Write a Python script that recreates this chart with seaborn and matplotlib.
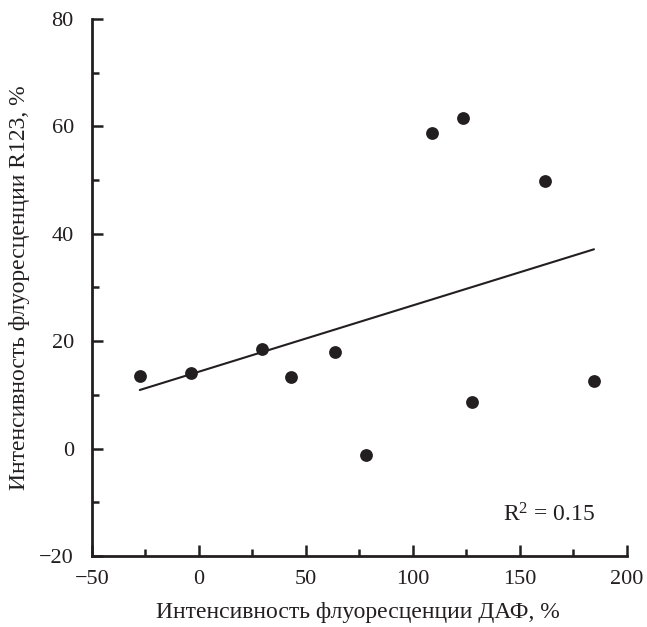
import matplotlib
matplotlib.use("Agg")
import matplotlib.pyplot as plt
from matplotlib.ticker import MultipleLocator
import seaborn as sns
import pandas as pd

# данные
daf = [-27.6, -3.7, 29.4, 43.0, 63.6, 78.0, 108.9, 123.4, 127.6, 161.7, 184.6]
r123 = [13.5, 14.0, 18.5, 13.3, 18.0, -1.2, 58.7, 61.5, 8.6, 49.8, 12.6]
r2_text = r"R$^2$ = 0.15"

df = pd.DataFrame({"daf": daf, "r123": r123})

sns.set_style("ticks")
plt.rcParams["font.family"] = ["Liberation Serif", "DejaVu Serif"]
plt.rcParams["mathtext.fontset"] = "custom"
plt.rcParams["mathtext.rm"] = "Liberation Serif"
plt.rcParams["mathtext.it"] = "Liberation Serif"
ink = "#231f20"

fig = plt.figure(figsize=(6.47, 6.27), dpi=100)
ax = fig.add_axes([0.142, 0.113, 0.827, 0.857])

sns.regplot(data=df, x="daf", y="r123", ax=ax, ci=None,
            scatter_kws={"s": 85, "color": ink, "linewidths": 0, "alpha": 1},
            line_kws={"color": ink, "linewidth": 1.5})

ax.set_xlim(-50, 200)
ax.set_ylim(-20, 80)
ax.xaxis.set_major_locator(MultipleLocator(50))
ax.xaxis.set_minor_locator(MultipleLocator(25))
ax.yaxis.set_major_locator(MultipleLocator(20))
ax.yaxis.set_minor_locator(MultipleLocator(10))

for side in ["top", "right"]:
    ax.spines[side].set_visible(False)
for side in ["left", "bottom"]:
    ax.spines[side].set_linewidth(2)
    ax.spines[side].set_color(ink)

ax.tick_params(which="major", direction="in", length=8, width=1.8, color=ink,
               labelsize=16, labelcolor=ink)
ax.tick_params(which="minor", direction="in", length=5, width=1.8, color=ink)
ax.tick_params(axis="x", which="major", pad=10)
ax.tick_params(axis="y", which="major", pad=13)

ax.set_xlabel("Интенсивность флуоресценции ДАФ, %", fontsize=17, color=ink)
ax.set_ylabel("Интенсивность флуоресценции R123, %", fontsize=17, color=ink)
ax.xaxis.set_label_coords(0.498, -0.086)
ax.yaxis.set_label_coords(-0.116, 0.5)

ax.text(185, -13.6, r2_text, ha="right", va="baseline", fontsize=17, color=ink)

fig.savefig("out.png", dpi=100)
